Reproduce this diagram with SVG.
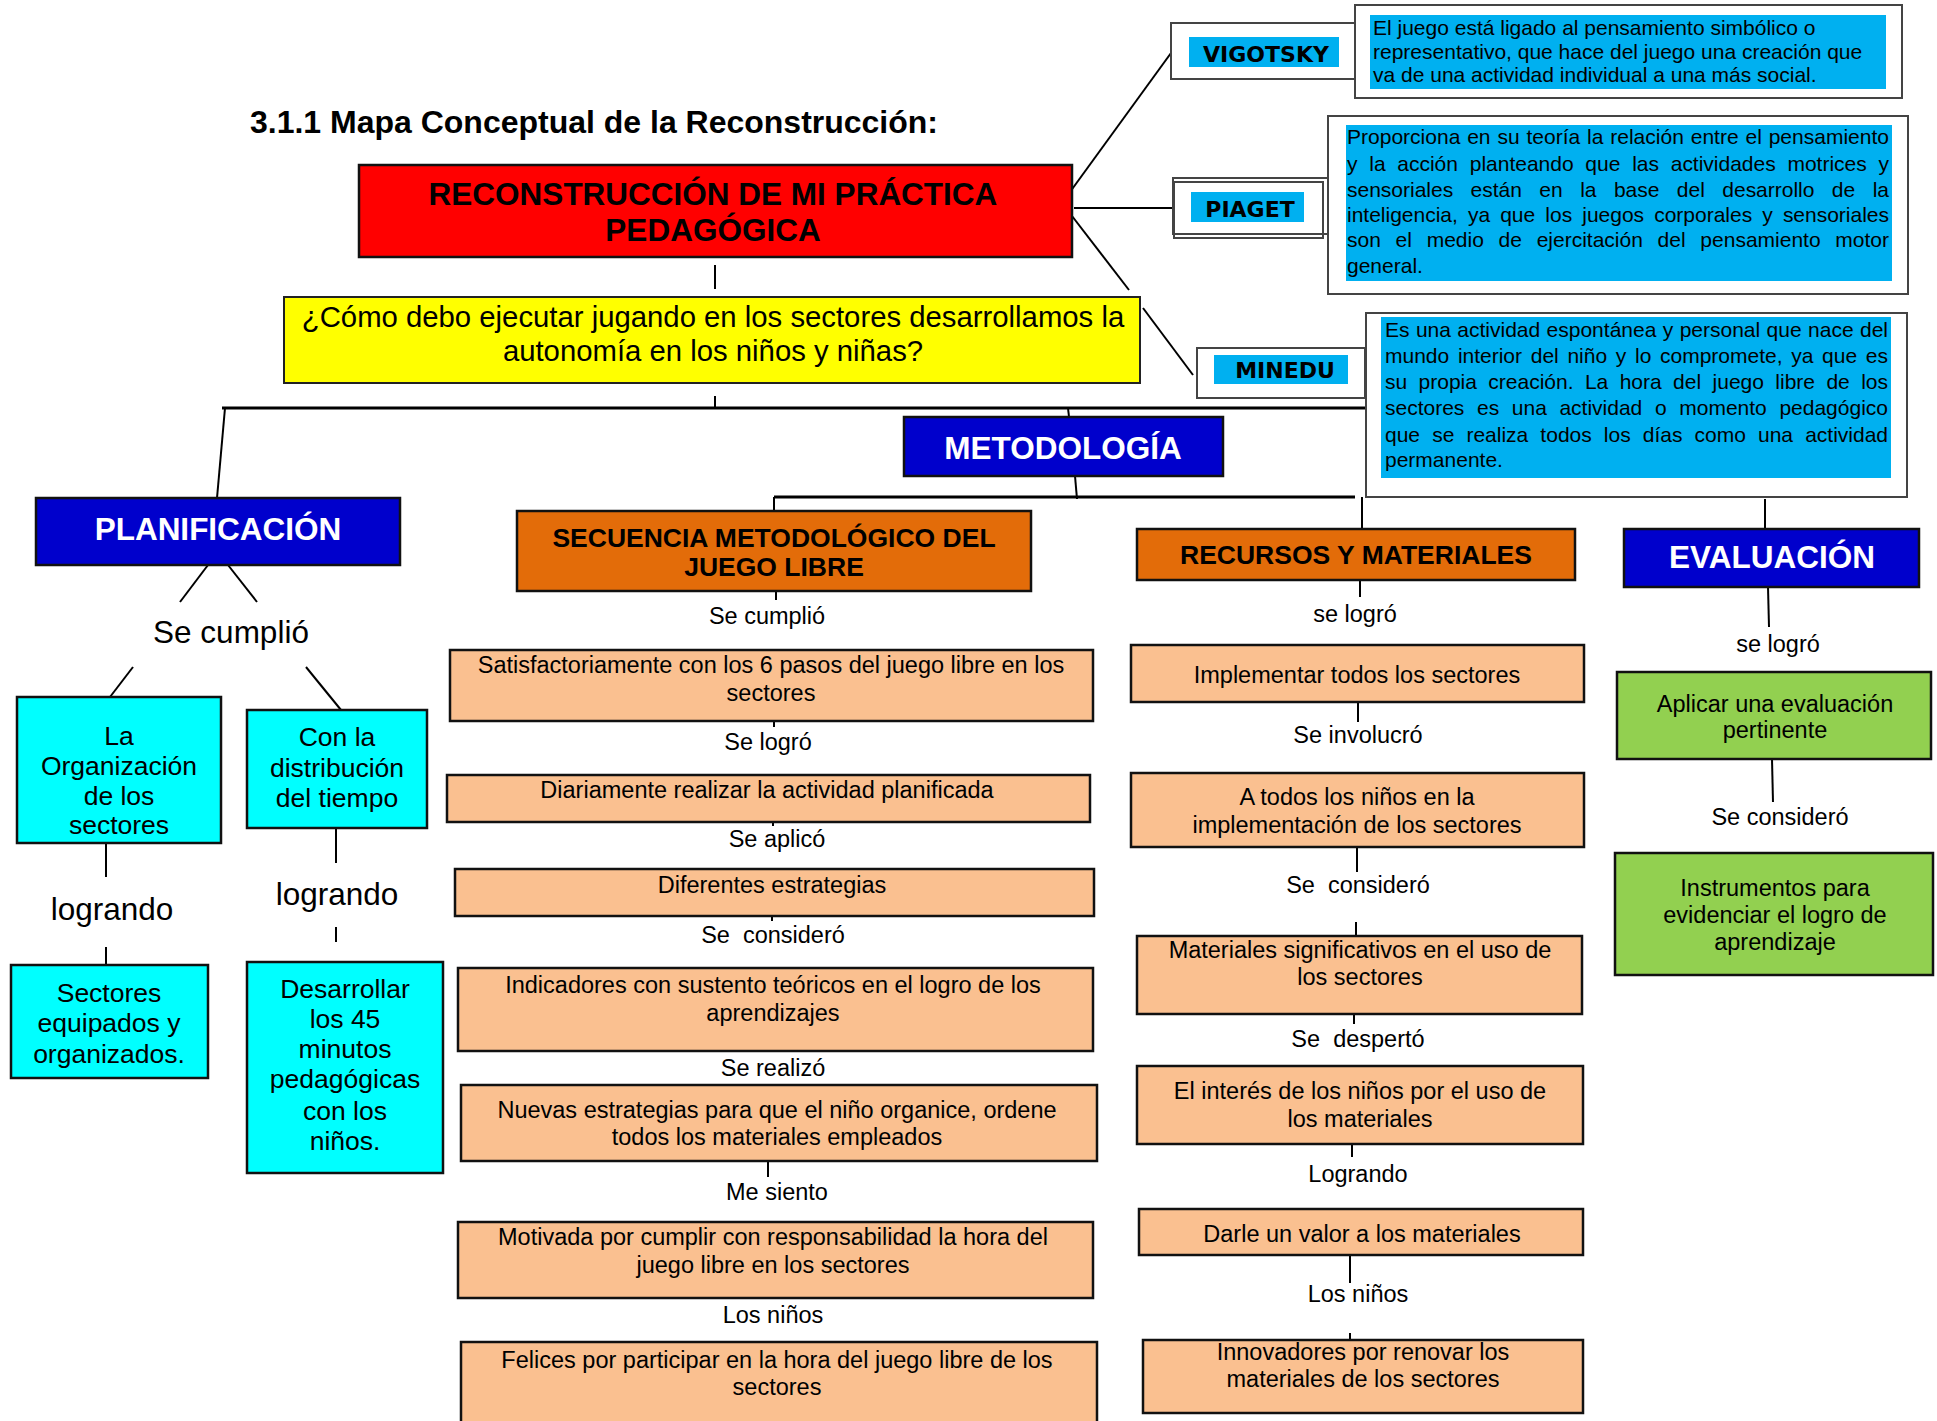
<svg xmlns="http://www.w3.org/2000/svg" width="1937" height="1421" viewBox="0 0 1937 1421">
<style>
.bg{fill:#fff}
.c{stroke:#000;stroke-width:2;fill:none}
.c3{stroke:#000;stroke-width:3;fill:none}
.b{stroke:#111;stroke-width:2.5}
.red{fill:#ff0000}
.yel{fill:#ffff00}
.navy{fill:#0000cc}
.org{fill:#e36c09}
.lo{fill:#fac090}
.cy{fill:#00ffff}
.gr{fill:#92d050}
.sky{fill:#00b0f0}
.wb{fill:#fff;stroke:#444;stroke-width:2}
.t{font-family:'Liberation Sans',Arial,sans-serif;fill:#000}
.m{text-anchor:middle}
.bold{font-weight:bold}
.w{fill:#fff}
.lab{font-family:'DejaVu Sans','Liberation Sans',sans-serif;font-weight:bold;font-size:22px;fill:#000;text-anchor:middle}
.th{font-family:'Liberation Sans',Arial,sans-serif;font-size:21px;fill:#000}
.s23{font-size:23.5px}
.s26{font-size:26.5px}
.s31{font-size:31.5px}
</style>
<rect class="bg" x="0" y="0" width="1937" height="1421"/>

<text class="t bold" x="250" y="133" font-size="32" textLength="688" lengthAdjust="spacingAndGlyphs">3.1.1 Mapa Conceptual de la Reconstrucción:</text>

<g id="connectors">
<line class="c" x1="715" y1="265" x2="715" y2="289"/>
<line class="c" x1="715" y1="396" x2="715" y2="408"/>
<line class="c3" x1="222" y1="408" x2="1366" y2="408"/>
<line class="c" x1="225" y1="408" x2="217" y2="498"/>
<line class="c" x1="208" y1="565" x2="180" y2="602"/>
<line class="c" x1="228" y1="565" x2="257" y2="602"/>
<line class="c" x1="133" y1="667" x2="110" y2="697"/>
<line class="c" x1="306" y1="667" x2="341" y2="710"/>
<line class="c" x1="106" y1="844" x2="106" y2="877"/>
<line class="c" x1="106" y1="947" x2="106" y2="965"/>
<line class="c" x1="336" y1="828" x2="336" y2="863"/>
<line class="c" x1="336" y1="927" x2="336" y2="942"/>
<line class="c" x1="1068" y1="408" x2="1069" y2="417"/>
<line class="c" x1="1075" y1="476" x2="1077" y2="499"/>
<line class="c3" x1="774" y1="497" x2="1355" y2="497"/>
<line class="c" x1="774" y1="497" x2="774" y2="511"/>
<line class="c" x1="1362" y1="497" x2="1362" y2="529"/>
<line class="c" x1="1765" y1="499" x2="1765" y2="529"/>
<line class="c" x1="776" y1="591" x2="776" y2="600"/>
<line class="c" x1="774" y1="721" x2="774" y2="727"/>
<line class="c" x1="773" y1="822" x2="773" y2="826"/>
<line class="c" x1="772" y1="916" x2="772" y2="921"/>
<line class="c" x1="768" y1="1161" x2="768" y2="1177"/>
<line class="c" x1="1360" y1="580" x2="1360" y2="597"/>
<line class="c" x1="1358" y1="702" x2="1358" y2="722"/>
<line class="c" x1="1357" y1="847" x2="1357" y2="872"/>
<line class="c" x1="1356" y1="922" x2="1356" y2="936"/>
<line class="c" x1="1354" y1="1014" x2="1354" y2="1024"/>
<line class="c" x1="1352" y1="1144" x2="1352" y2="1157"/>
<line class="c" x1="1350" y1="1255" x2="1350" y2="1283"/>
<line class="c" x1="1350" y1="1333" x2="1350" y2="1340"/>
<line class="c" x1="1768" y1="587" x2="1769" y2="627"/>
<line class="c" x1="1772" y1="759" x2="1773" y2="802"/>
<line class="c" x1="1070" y1="192" x2="1171" y2="53"/>
<line class="c" x1="1074" y1="208" x2="1173" y2="208"/>
<line class="c" x1="1072" y1="216" x2="1129" y2="290"/>
<line class="c" x1="1143" y1="308" x2="1193" y2="375"/>
</g>

<g id="main">
<rect class="b red" x="359" y="165" width="713" height="92"/>
<text class="t bold m" x="713" y="205" font-size="31.5" fill="#111">RECONSTRUCCIÓN DE MI PRÁCTICA</text>
<text class="t bold m" x="713" y="241" font-size="31.5" fill="#111">PEDAGÓGICA</text>
</g>

<g id="question">
<rect class="yel" x="284" y="297" width="856" height="86" stroke="#222" stroke-width="2"/>
<text class="t m" x="713" y="327" font-size="29.3">¿Cómo debo ejecutar jugando en los sectores desarrollamos la</text>
<text class="t m" x="713" y="361" font-size="29.3">autonomía en los niños y niñas?</text>
</g>

<g id="vigotsky">
<rect class="wb" x="1171" y="23" width="185" height="56"/>
<rect class="sky" x="1189" y="37" width="150" height="30"/>
<text class="lab" x="1266" y="62">VIGOTSKY</text>
</g>
<g id="vigotsky-text">
<rect class="wb" x="1355" y="5" width="547" height="93"/>
<rect class="sky" x="1370" y="15" width="516" height="74"/>
<text class="th" x="1373" y="35">El juego está ligado al pensamiento simbólico o</text>
<text class="th" x="1373" y="59">representativo, que hace del juego una creación que</text>
<text class="th" x="1373" y="82">va de una actividad individual a una más social.</text>
</g>

<g id="piaget">
<rect class="wb" x="1173" y="178" width="155" height="56"/>
<rect fill="none" stroke="#444" stroke-width="2" x="1174" y="182" width="149" height="56"/>
<rect class="sky" x="1191" y="192" width="113" height="30"/>
<text class="lab" x="1250" y="217">PIAGET</text>
</g>
<g id="piaget-text">
<rect class="wb" x="1328" y="116" width="580" height="178"/>
<rect class="sky" x="1346" y="125" width="546" height="156"/>
<text class="th" x="1347" y="144" textLength="542" lengthAdjust="spacing" word-spacing="1">Proporciona en su teoría la relación entre el pensamiento</text>
<text class="th" x="1347" y="171" textLength="542" lengthAdjust="spacing" word-spacing="5.9">y la acción planteando que las actividades motrices y</text>
<text class="th" x="1347" y="197" textLength="542" lengthAdjust="spacing" word-spacing="11.6">sensoriales están en la base del desarrollo de la</text>
<text class="th" x="1347" y="222" textLength="542" lengthAdjust="spacing" word-spacing="4.3">inteligencia, ya que los juegos corporales y sensoriales</text>
<text class="th" x="1347" y="247" textLength="542" lengthAdjust="spacing" word-spacing="8.9">son el medio de ejercitación del pensamiento motor</text>
<text class="th" x="1347" y="273">general.</text>
</g>

<g id="minedu">
<rect class="wb" x="1197" y="348" width="168" height="50"/>
<rect class="sky" x="1214" y="355" width="134" height="29"/>
<text class="lab" x="1285" y="378">MINEDU</text>
</g>
<g id="minedu-text">
<rect class="wb" x="1366" y="313" width="541" height="184"/>
<rect class="sky" x="1381" y="317" width="510" height="161"/>
<text class="th" x="1385" y="337" textLength="503" lengthAdjust="spacing" word-spacing="0.6">Es una actividad espontánea y personal que nace del</text>
<text class="th" x="1385" y="363" textLength="503" lengthAdjust="spacing" word-spacing="2.9">mundo interior del niño y lo compromete, ya que es</text>
<text class="th" x="1385" y="389" textLength="503" lengthAdjust="spacing" word-spacing="5.6">su propia creación. La hora del juego libre de los</text>
<text class="th" x="1385" y="415" textLength="503" lengthAdjust="spacing" word-spacing="6.8">sectores es una actividad o momento pedagógico</text>
<text class="th" x="1385" y="442" textLength="503" lengthAdjust="spacing" word-spacing="6.3">que se realiza todos los días como una actividad</text>
<text class="th" x="1385" y="467">permanente.</text>
</g>

<g id="planificacion">
<rect class="b navy" x="36" y="498" width="364" height="67"/>
<text class="t bold m w" x="218" y="540" font-size="31.5">PLANIFICACIÓN</text>
</g>
<text class="t m s31" x="231" y="643">Se cumplió</text>
<g id="organizacion">
<rect class="b cy" x="17" y="697" width="204" height="146"/>
<text class="t m s26" x="119" y="745">La</text>
<text class="t m s26" x="119" y="775">Organización</text>
<text class="t m s26" x="119" y="805">de los</text>
<text class="t m s26" x="119" y="834">sectores</text>
</g>
<g id="distribucion">
<rect class="b cy" x="247" y="710" width="180" height="118"/>
<text class="t m s26" x="337" y="746">Con la</text>
<text class="t m s26" x="337" y="777">distribución</text>
<text class="t m s26" x="337" y="807">del tiempo</text>
</g>
<text class="t m s31" x="112" y="920">logrando</text>
<text class="t m s31" x="337" y="905">logrando</text>
<g id="sectores-equipados">
<rect class="b cy" x="11" y="965" width="197" height="113"/>
<text class="t m s26" x="109" y="1002">Sectores</text>
<text class="t m s26" x="109" y="1032">equipados y</text>
<text class="t m s26" x="109" y="1063">organizados.</text>
</g>
<g id="desarrollar">
<rect class="b cy" x="247" y="962" width="196" height="211"/>
<text class="t m s26" x="345" y="998">Desarrollar</text>
<text class="t m s26" x="345" y="1028">los 45</text>
<text class="t m s26" x="345" y="1058">minutos</text>
<text class="t m s26" x="345" y="1088">pedagógicas</text>
<text class="t m s26" x="345" y="1120">con los</text>
<text class="t m s26" x="345" y="1150">niños.</text>
</g>

<g id="metodologia">
<rect class="b navy" x="904" y="417" width="319" height="59"/>
<text class="t bold m w" x="1063" y="459" font-size="31.5">METODOLOGÍA</text>
</g>

<g id="secuencia">
<rect class="b org" x="517" y="511" width="514" height="80"/>
<text class="t bold m" x="774" y="547" font-size="26.5" fill="#111">SECUENCIA METODOLÓGICO DEL</text>
<text class="t bold m" x="774" y="576" font-size="26.5" fill="#111">JUEGO LIBRE</text>
</g>
<text class="t m s23" x="767" y="624">Se cumplió</text>
<g id="s1">
<rect class="b lo" x="450" y="650" width="643" height="71"/>
<text class="t m s23" x="771" y="673">Satisfactoriamente con los 6 pasos del juego libre en los</text>
<text class="t m s23" x="771" y="701">sectores</text>
</g>
<text class="t m s23" x="768" y="750">Se logró</text>
<g id="s2">
<rect class="b lo" x="447" y="775" width="643" height="47"/>
<text class="t m s23" x="767" y="798">Diariamente realizar la actividad planificada</text>
</g>
<text class="t m s23" x="777" y="847">Se aplicó</text>
<g id="s3">
<rect class="b lo" x="455" y="869" width="639" height="47"/>
<text class="t m s23" x="772" y="893">Diferentes estrategias</text>
</g>
<text class="t m s23" x="773" y="943" xml:space="preserve">Se  consideró</text>
<g id="s4">
<rect class="b lo" x="458" y="968" width="635" height="83"/>
<text class="t m s23" x="773" y="993">Indicadores con sustento teóricos en el logro de los</text>
<text class="t m s23" x="773" y="1021">aprendizajes</text>
</g>
<text class="t m s23" x="773" y="1076">Se realizó</text>
<g id="s5">
<rect class="b lo" x="461" y="1085" width="636" height="76"/>
<text class="t m s23" x="777" y="1118">Nuevas estrategias para que el niño organice, ordene</text>
<text class="t m s23" x="777" y="1145">todos los materiales empleados</text>
</g>
<text class="t m s23" x="777" y="1200">Me siento</text>
<g id="s6">
<rect class="b lo" x="458" y="1222" width="635" height="76"/>
<text class="t m s23" x="773" y="1245">Motivada por cumplir con responsabilidad la hora del</text>
<text class="t m s23" x="773" y="1273">juego libre en los sectores</text>
</g>
<text class="t m s23" x="773" y="1323">Los niños</text>
<g id="s7">
<rect class="b lo" x="461" y="1342" width="636" height="84"/>
<text class="t m s23" x="777" y="1368">Felices por participar en la hora del juego libre de los</text>
<text class="t m s23" x="777" y="1395">sectores</text>
</g>

<g id="recursos">
<rect class="b org" x="1137" y="529" width="438" height="51"/>
<text class="t bold m" x="1356" y="564" font-size="26.5" fill="#111">RECURSOS Y MATERIALES</text>
</g>
<text class="t m s23" x="1355" y="622">se logró</text>
<g id="r1">
<rect class="b lo" x="1131" y="645" width="453" height="57"/>
<text class="t m s23" x="1357" y="683">Implementar todos los sectores</text>
</g>
<text class="t m s23" x="1358" y="743">Se involucró</text>
<g id="r2">
<rect class="b lo" x="1131" y="773" width="453" height="74"/>
<text class="t m s23" x="1357" y="805">A todos los niños en la</text>
<text class="t m s23" x="1357" y="833">implementación de los sectores</text>
</g>
<text class="t m s23" x="1358" y="893" xml:space="preserve">Se  consideró</text>
<g id="r3">
<rect class="b lo" x="1137" y="936" width="445" height="78"/>
<text class="t m s23" x="1360" y="958">Materiales significativos en el uso de</text>
<text class="t m s23" x="1360" y="985">los sectores</text>
</g>
<text class="t m s23" x="1358" y="1047" xml:space="preserve">Se  despertó</text>
<g id="r4">
<rect class="b lo" x="1137" y="1066" width="446" height="78"/>
<text class="t m s23" x="1360" y="1099">El interés de los niños por el uso de</text>
<text class="t m s23" x="1360" y="1127">los materiales</text>
</g>
<text class="t m s23" x="1358" y="1182">Logrando</text>
<g id="r5">
<rect class="b lo" x="1139" y="1209" width="444" height="46"/>
<text class="t m s23" x="1362" y="1242">Darle un valor a los materiales</text>
</g>
<text class="t m s23" x="1358" y="1302">Los niños</text>
<g id="r6">
<rect class="b lo" x="1143" y="1340" width="440" height="73"/>
<text class="t m s23" x="1363" y="1360">Innovadores por renovar los</text>
<text class="t m s23" x="1363" y="1387">materiales de los sectores</text>
</g>

<g id="evaluacion">
<rect class="b navy" x="1624" y="529" width="295" height="58"/>
<text class="t bold m w" x="1772" y="568" font-size="31.5">EVALUACIÓN</text>
</g>
<text class="t m s23" x="1778" y="652">se logró</text>
<g id="e1">
<rect class="b gr" x="1617" y="672" width="314" height="87"/>
<text class="t m s23" x="1775" y="712">Aplicar una evaluación</text>
<text class="t m s23" x="1775" y="738">pertinente</text>
</g>
<text class="t m s23" x="1780" y="825">Se consideró</text>
<g id="e2">
<rect class="b gr" x="1615" y="853" width="318" height="122"/>
<text class="t m s23" x="1775" y="896">Instrumentos para</text>
<text class="t m s23" x="1775" y="923">evidenciar el logro de</text>
<text class="t m s23" x="1775" y="950">aprendizaje</text>
</g>
</svg>
